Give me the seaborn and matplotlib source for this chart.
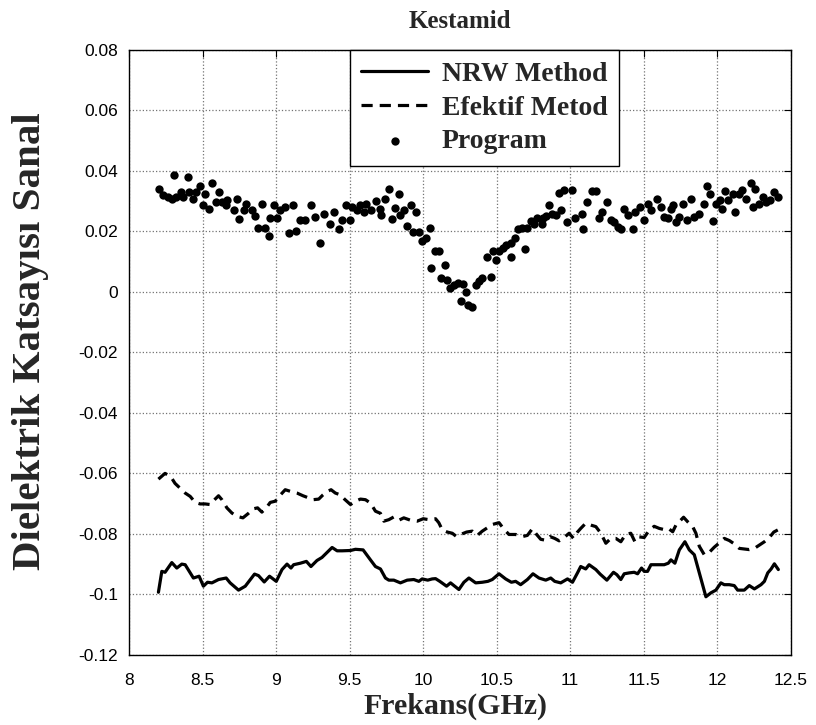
import numpy as np
import pandas as pd
import matplotlib
matplotlib.use('Agg')
import matplotlib.pyplot as plt
import seaborn as sns

# Kestamid - dielektrik katsayisi (sanal kisim)

# NRW yontemi
nrw_freq = [
    8.198, 8.221, 8.243, 8.289, 8.323, 8.357, 8.380, 8.436, 8.475, 8.504,
    8.532, 8.562, 8.607, 8.659, 8.686, 8.743, 8.789, 8.852, 8.879, 8.918,
    8.954, 9.000, 9.039, 9.073, 9.100, 9.118, 9.164, 9.205, 9.236, 9.277,
    9.311, 9.380, 9.414, 9.448, 9.505, 9.539, 9.591, 9.641, 9.675, 9.709,
    9.743, 9.766, 9.800, 9.845, 9.891, 9.936, 9.970, 9.993, 10.031, 10.061,
    10.084, 10.113, 10.159, 10.186, 10.209, 10.243, 10.277, 10.311, 10.357, 10.402,
    10.440, 10.470, 10.516, 10.561, 10.600, 10.629, 10.663, 10.709, 10.747, 10.788,
    10.834, 10.868, 10.895, 10.936, 10.982, 11.016, 11.050, 11.072, 11.106, 11.129,
    11.175, 11.204, 11.250, 11.295, 11.318, 11.345, 11.368, 11.402, 11.436, 11.459,
    11.486, 11.504, 11.527, 11.550, 11.595, 11.640, 11.668, 11.686, 11.713, 11.743,
    11.781, 11.811, 11.845, 11.924, 11.958, 11.992, 12.026, 12.049, 12.083, 12.117,
    12.140, 12.185, 12.219, 12.254, 12.299, 12.322, 12.345, 12.368, 12.390, 12.417,
]
nrw_val = [
    -0.0994, -0.0925, -0.0928, -0.0896, -0.0914, -0.0901, -0.0903, -0.0947, -0.0941, -0.0974,
    -0.0961, -0.0963, -0.0952, -0.0947, -0.0963, -0.0987, -0.0974, -0.0934, -0.0939, -0.0960,
    -0.0941, -0.0958, -0.0919, -0.0901, -0.0914, -0.0903, -0.0898, -0.0892, -0.0909, -0.0889,
    -0.0879, -0.0846, -0.0857, -0.0857, -0.0856, -0.0852, -0.0854, -0.0887, -0.0909, -0.0917,
    -0.0947, -0.0954, -0.0954, -0.0963, -0.0954, -0.0952, -0.0958, -0.0950, -0.0954, -0.0950,
    -0.0949, -0.0958, -0.0974, -0.0963, -0.0972, -0.0985, -0.0961, -0.0947, -0.0963, -0.0961,
    -0.0958, -0.0952, -0.0933, -0.0950, -0.0961, -0.0958, -0.0969, -0.0952, -0.0933, -0.0947,
    -0.0954, -0.0947, -0.0958, -0.0963, -0.0950, -0.0961, -0.0930, -0.0909, -0.0917, -0.0903,
    -0.0919, -0.0934, -0.0954, -0.0928, -0.0936, -0.0952, -0.0933, -0.0930, -0.0928, -0.0933,
    -0.0914, -0.0925, -0.0925, -0.0903, -0.0903, -0.0903, -0.0898, -0.0887, -0.0898, -0.0854,
    -0.0827, -0.0854, -0.0870, -0.1009, -0.0996, -0.0987, -0.0963, -0.0969, -0.0969, -0.0972,
    -0.0987, -0.0987, -0.0972, -0.0983, -0.0969, -0.0958, -0.0930, -0.0917, -0.0900, -0.0919,
]

# Efektif metod
efk_freq = [
    8.198, 8.243, 8.282, 8.311, 8.346, 8.380, 8.414, 8.448, 8.482, 8.516,
    8.550, 8.584, 8.607, 8.630, 8.664, 8.698, 8.732, 8.773, 8.811, 8.845,
    8.873, 8.902, 8.932, 8.959, 8.993, 9.023, 9.061, 9.100, 9.141, 9.182,
    9.220, 9.250, 9.289, 9.318, 9.346, 9.373, 9.402, 9.436, 9.464,
    9.505, 9.539, 9.573, 9.607, 9.641, 9.675, 9.709, 9.732, 9.766, 9.800,
    9.834, 9.868, 9.914, 9.959, 10.000, 10.039, 10.084, 10.106, 10.130, 10.164,
    10.198, 10.227, 10.254, 10.295, 10.334, 10.368, 10.402, 10.436, 10.470, 10.516,
    10.550, 10.584, 10.629, 10.675, 10.709, 10.743, 10.772, 10.800, 10.834, 10.863,
    10.895, 10.925, 10.959, 10.993, 11.023, 11.050,
    11.072, 11.106, 11.141, 11.175, 11.209, 11.243, 11.277, 11.311, 11.345, 11.379,
    11.413, 11.441, 11.470, 11.504, 11.538, 11.572, 11.607, 11.641, 11.668, 11.698,
    11.720, 11.754, 11.772, 11.800, 11.834, 11.856, 11.879, 11.913, 11.947, 11.981,
    12.015, 12.049, 12.083, 12.117, 12.151, 12.185, 12.219, 12.254, 12.288, 12.322,
    12.356, 12.386, 12.413,
]
efk_val = [
    -0.0620, -0.0601, -0.0612, -0.0634, -0.0650, -0.0666, -0.0677, -0.0697, -0.0702, -0.0702,
    -0.0704, -0.0686, -0.0675, -0.0688, -0.0715, -0.0732, -0.0743, -0.0748, -0.0733, -0.0718,
    -0.0715, -0.0729, -0.0715, -0.0697, -0.0693, -0.0675, -0.0655, -0.0661, -0.0666, -0.0675,
    -0.0682, -0.0688, -0.0686, -0.0672, -0.0661, -0.0655, -0.0666, -0.0672, -0.0686,
    -0.0704, -0.0693, -0.0686, -0.0688, -0.0699, -0.0726, -0.0733, -0.0759, -0.0754, -0.0745,
    -0.0756, -0.0748, -0.0756, -0.0759, -0.0751, -0.0754, -0.0751, -0.0764, -0.0788, -0.0795,
    -0.0799, -0.0810, -0.0803, -0.0795, -0.0792, -0.0806, -0.0792, -0.0781, -0.0770, -0.0764,
    -0.0786, -0.0803, -0.0803, -0.0810, -0.0806, -0.0784, -0.0803, -0.0819, -0.0822, -0.0810,
    -0.0816, -0.0824, -0.0813, -0.0799, -0.0816, -0.0795,
    -0.0783, -0.0766, -0.0772, -0.0777, -0.0799, -0.0832, -0.0816, -0.0816, -0.0827, -0.0802,
    -0.0799, -0.0827, -0.0811, -0.0813, -0.0789, -0.0776, -0.0783, -0.0787, -0.0783, -0.0794,
    -0.0772, -0.0755, -0.0746, -0.0761, -0.0777, -0.0799, -0.0842, -0.0870, -0.0862, -0.0845,
    -0.0831, -0.0816, -0.0823, -0.0834, -0.0849, -0.0851, -0.0853, -0.0849, -0.0838, -0.0827,
    -0.0813, -0.0795, -0.0788,
]

# program sonuclari (noktalar)
prg_freq = [
    8.202, 8.228, 8.262, 8.289, 8.307, 8.318, 8.352, 8.368, 8.402, 8.409,
    8.436, 8.455, 8.482, 8.504, 8.516, 8.539, 8.562, 8.591, 8.607, 8.630,
    8.659, 8.668, 8.709, 8.736, 8.748, 8.777, 8.796, 8.834, 8.857, 8.875,
    8.902, 8.925, 8.948, 8.959, 8.982, 9.005, 9.027, 9.061, 9.084, 9.111,
    9.134, 9.164, 9.198, 9.236, 9.266, 9.295, 9.323, 9.364, 9.391, 9.425,
    9.448, 9.475,
    9.504, 9.516, 9.550, 9.573, 9.595, 9.614, 9.646, 9.680, 9.709, 9.716,
    9.739, 9.766, 9.789, 9.807, 9.834, 9.845, 9.868, 9.891, 9.914, 9.932,
    9.952, 9.970, 9.993, 10.022, 10.043, 10.054, 10.077, 10.106, 10.118, 10.147,
    10.159, 10.181, 10.209, 10.236, 10.254, 10.273, 10.288, 10.304, 10.334, 10.357,
    10.380, 10.402, 10.437, 10.459, 10.477, 10.493, 10.516, 10.545, 10.561, 10.595,
    10.600, 10.623, 10.645, 10.675, 10.693, 10.709, 10.731, 10.754, 10.777, 10.811,
    10.818, 10.834, 10.857, 10.879, 10.902, 10.925, 10.941, 10.959, 10.982, 11.011,
    11.032,
    11.084, 11.090, 11.118, 11.152, 11.175, 11.197, 11.220, 11.250, 11.277, 11.300,
    11.323, 11.345, 11.368, 11.395, 11.425, 11.441, 11.477, 11.505, 11.527, 11.550,
    11.591, 11.618, 11.636, 11.668, 11.686, 11.698, 11.720, 11.743, 11.766, 11.795,
    11.822, 11.845, 11.879, 11.913, 11.931, 11.954, 11.974, 11.992, 12.022, 12.031,
    12.056, 12.076, 12.106, 12.124, 12.151, 12.168, 12.197, 12.231, 12.243, 12.259,
    12.288, 12.311, 12.334, 12.363, 12.390, 12.417,
]
prg_val = [
    0.0340, 0.0320, 0.0313, 0.0306, 0.0386, 0.0313, 0.0329, 0.0313, 0.0380, 0.0329,
    0.0307, 0.0329, 0.0349, 0.0285, 0.0324, 0.0272, 0.0358, 0.0296, 0.0329, 0.0296,
    0.0285, 0.0302, 0.0269, 0.0307, 0.0239, 0.0269, 0.0291, 0.0269, 0.0249, 0.0211,
    0.0291, 0.0211, 0.0184, 0.0245, 0.0285, 0.0245, 0.0269, 0.0280, 0.0194, 0.0285,
    0.0201, 0.0238, 0.0236, 0.0285, 0.0247, 0.0162, 0.0258, 0.0223, 0.0263, 0.0206,
    0.0238, 0.0285,
    0.0236, 0.0280, 0.0269, 0.0285, 0.0263, 0.0291, 0.0271, 0.0300, 0.0274, 0.0252,
    0.0307, 0.0340, 0.0239, 0.0278, 0.0324, 0.0252, 0.0269, 0.0216, 0.0285, 0.0198,
    0.0263, 0.0198, 0.0168, 0.0176, 0.0212, 0.0078, 0.0134, 0.0134, 0.0045, 0.0089,
    0.0039, 0.0012, 0.0023, 0.0029, -0.0032, 0.0025, -0.0002, -0.0043, -0.0051, 0.0023,
    0.0034, 0.0045, 0.0116, 0.0050, 0.0135, 0.0105, 0.0135, 0.0143, 0.0154, 0.0116,
    0.0160, 0.0179, 0.0206, 0.0212, 0.0140, 0.0212, 0.0234, 0.0225, 0.0242, 0.0225,
    0.0242, 0.0249, 0.0285, 0.0258, 0.0252, 0.0326, 0.0269, 0.0337, 0.0231, 0.0337,
    0.0242,
    0.0258, 0.0207, 0.0296, 0.0334, 0.0334, 0.0242, 0.0263, 0.0296, 0.0236, 0.0231,
    0.0214, 0.0207, 0.0274, 0.0252, 0.0207, 0.0263, 0.0280, 0.0236, 0.0291, 0.0269,
    0.0307, 0.0280, 0.0247, 0.0242, 0.0274, 0.0285, 0.0231, 0.0247, 0.0291, 0.0236,
    0.0307, 0.0247, 0.0258, 0.0291, 0.0348, 0.0324, 0.0234, 0.0291, 0.0302, 0.0274,
    0.0334, 0.0302, 0.0324, 0.0263, 0.0324, 0.0337, 0.0307, 0.0360, 0.0280, 0.0340,
    0.0291, 0.0313, 0.0296, 0.0302, 0.0329, 0.0313,
]

x_ticks = [8, 8.5, 9, 9.5, 10, 10.5, 11, 11.5, 12, 12.5]
x_labels = ['8', '8.5', '9', '9.5', '10', '10.5', '11', '11.5', '12', '12.5']
y_ticks = [-0.12, -0.1, -0.08, -0.06, -0.04, -0.02, 0, 0.02, 0.04, 0.06, 0.08]
y_labels = ['-0.12', '-0.1', '-0.08', '-0.06', '-0.04', '-0.02', '0', '0.02', '0.04', '0.06', '0.08']

sns.set_style('white')
plt.rcParams['font.family'] = ['Liberation Sans', 'DejaVu Sans']

serif = ['Liberation Serif', 'DejaVu Serif']

fig = plt.figure(figsize=(8.16, 7.25), dpi=100)
ax = fig.add_axes([0.1585, 0.0972, 0.8103, 0.8342])

sns.lineplot(x=nrw_freq, y=nrw_val, ax=ax, color='k', linewidth=2.3,
             sort=False, estimator=None, label='NRW Method')
sns.lineplot(x=efk_freq, y=efk_val, ax=ax, color='k', linewidth=2.3,
             linestyle=(0, (3.5, 2.2)), sort=False, estimator=None,
             label='Efektif Metod')
sns.scatterplot(x=prg_freq, y=prg_val, ax=ax, color='k', s=36,
                linewidth=0, label='Program')

ax.set_xlim(8, 12.5)
ax.set_ylim(-0.12, 0.08)
ax.set_xticks(x_ticks)
ax.set_xticklabels(x_labels)
ax.set_yticks(y_ticks)
ax.set_yticklabels(y_labels)

ax.grid(True, color='0.45', linestyle=':', linewidth=0.9)
ax.tick_params(direction='in', top=True, right=True, length=5, width=0.8,
               labelsize=12.5, colors='k')
ax.tick_params(axis='x', pad=13)
ax.tick_params(axis='y', pad=8)
for sp in ax.spines.values():
    sp.set_color('k')
    sp.set_linewidth(1.0)

ax.set_title('Kestamid', family=serif, fontweight='bold', fontsize=18, pad=16)
ax.set_xlabel('Frekans(GHz)', family=serif, fontweight='bold', fontsize=21.5,
              va='center')
ax.set_ylabel('Dielektrik Katsayısı Sanal', family=serif, fontweight='bold',
              fontsize=29.5, va='center')
ax.xaxis.set_label_coords(0.493, -0.086)
ax.yaxis.set_label_coords(-0.150, 0.518)

handles, labels = ax.get_legend_handles_labels()
order = ['NRW Method', 'Efektif Metod', 'Program']
hmap = dict(zip(labels, handles))
leg = ax.legend([hmap[k] for k in order], order, loc='upper left',
                bbox_to_anchor=(0.333, 1.0), borderaxespad=0,
                prop={'family': serif, 'weight': 'bold', 'size': 20},
                frameon=True, fancybox=False, framealpha=1, edgecolor='k',
                handlelength=2.4, labelspacing=0.3, borderpad=0.42,
                handletextpad=0.5, markerscale=1.0)
leg.get_frame().set_linewidth(1.0)

fig.savefig('out.png', dpi=100)
